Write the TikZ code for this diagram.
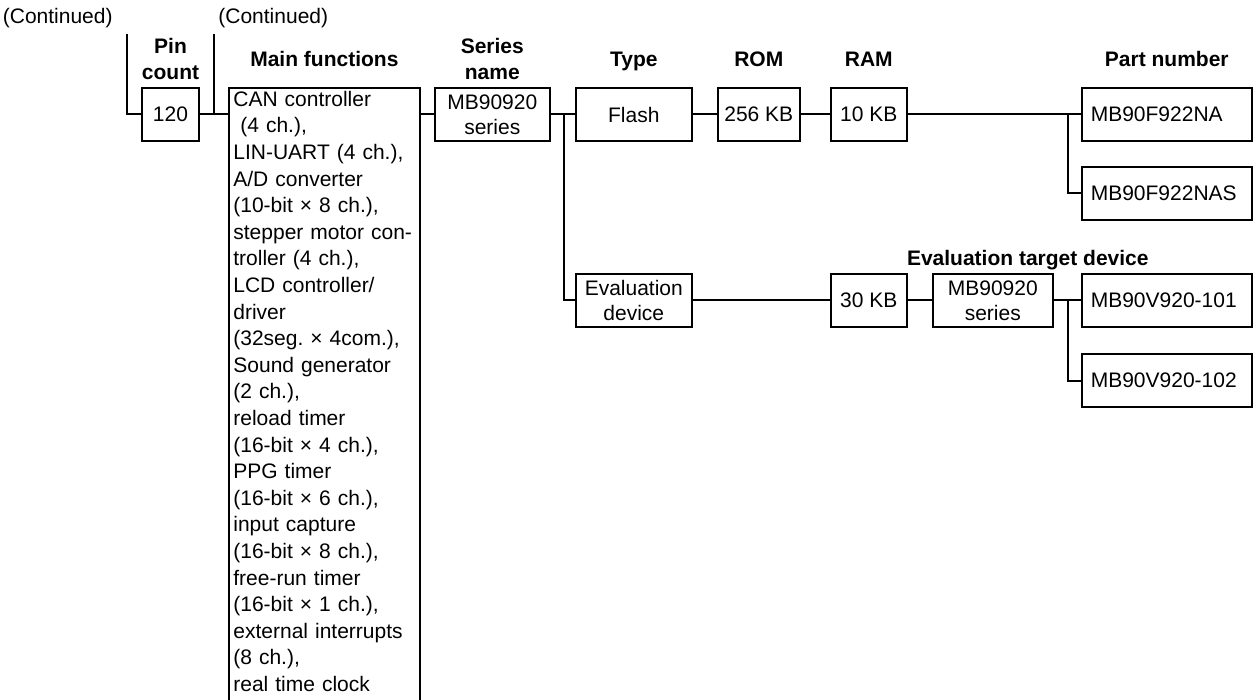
\documentclass[tikz,border=0pt]{standalone}
\usepackage{fontspec}
\setmainfont{Liberation Sans}
\usepackage{tikz}
\usetikzlibrary{positioning}
\frenchspacing

\begin{document}
\begin{tikzpicture}[
        x=0.5pt,
        y=-0.5pt,
        linebox/.style={
            draw,
            line width=1pt,
            outer sep=0pt,
            inner sep=0pt,
            minimum height=26.5pt,
            align=center,
            font=\fontsize{10.5}{12.5}\selectfont
        },
        partbox/.style={
            linebox,
            align=left,
            inner xsep=4.5pt,
            text width=76pt
        },
        colhead/.style={
            inner sep=0pt,
            align=center,
            font=\fontsize{10.5}{13}\selectfont\bfseries
        },
        onelinehead/.style={
            colhead,
            text height=7.6pt,
            text depth=0pt
        },
        note/.style={
            inner sep=0pt,
            font=\fontsize{10.5}{13.3}\selectfont
        },
        link/.style={
            line width=1pt
        }
    ]

        \useasboundingbox (0,0) rectangle (1253,700);

        % ---------------------------------------------------------------------
        % Pin count and main functions
        % ---------------------------------------------------------------------

        \node[
            linebox,
            minimum width=28.5pt,
            anchor=north west
        ] (pincount) at (142,88) {120};

        \node[
            note,
            align=left,
            text width=91pt,
            inner xsep=2pt,
            inner ysep=1.3pt,
            right=15pt of pincount.north east,
            anchor=north west
        ] (mainfunc) {CAN controller\\
            ~(4 ch.),\\
            LIN-UART (4 ch.),\\
            A/D converter\\
            (10-bit × 8 ch.),\\
            stepper motor con-\\
            troller (4 ch.),\\
            LCD controller/\\
            driver\\
            (32seg. × 4com.),\\
            Sound generator\\
            (2 ch.),\\
            reload timer\\
            (16-bit × 4 ch.),\\
            PPG timer\\
            (16-bit × 6 ch.),\\
            input capture\\
            (16-bit × 8 ch.),\\
            free-run timer\\
            (16-bit × 1 ch.),\\
            external interrupts\\
            (8 ch.),\\
            real time clock};

        % The box stays open at the bottom: the list goes on.
        \draw[link]
            ([yshift=-30pt]mainfunc.south west)
            -- (mainfunc.north west)
            -- (mainfunc.north east)
            -- ([yshift=-30pt]mainfunc.south east);

        \coordinate (contlefttop) at (127,34);
        \coordinate (contrighttop) at (214,34);
        \coordinate (mainrow) at (pincount.east -| mainfunc.east);

        \node[
            note,
            above left=3pt and 7pt of contlefttop
        ] (contleft) {(Continued)};

        \node[
            note,
            above right=3pt and 2pt of contrighttop
        ] (contright) {(Continued)};

        \draw[link]
            (contlefttop) |- (pincount.west);

        \draw[link]
            (contrighttop) -- (contrighttop |- pincount.east);

        \draw[link]
            (pincount.east) -- (pincount.east -| mainfunc.west);


        % ---------------------------------------------------------------------
        % First row: flash device
        % ---------------------------------------------------------------------

        \node[
            linebox,
            minimum width=57.5pt,
            right=7.5pt of mainrow
        ] (series) {MB90920\\series};

        \node[
            linebox,
            minimum width=58pt,
            right=13pt of series
        ] (flash) {Flash};

        \node[
            linebox,
            minimum width=41pt,
            right=13pt of flash
        ] (rom) {256 KB};

        \node[
            linebox,
            minimum width=38pt,
            right=15.5pt of rom
        ] (ram) {10 KB};

        \node[
            partbox,
            right=87.5pt of ram
        ] (partna) {MB90F922NA};

        \node[
            partbox,
            below=13pt of partna
        ] (partnas) {MB90F922NAS};

        \draw[link]
            (mainrow) -- (series.west);

        \draw[link]
            (series.east) -- (flash.west);

        \draw[link]
            (flash.east) -- (rom.west);

        \draw[link]
            (rom.east) -- (ram.west);

        \draw[link]
            (ram.east) -- (partna.west);

        \coordinate (partfork) at ([xshift=-7pt]partna.west);

        \draw[link]
            (partfork) |- (partnas.west);


        % ---------------------------------------------------------------------
        % Second row: evaluation device
        % ---------------------------------------------------------------------

        \node[
            linebox,
            minimum width=58pt,
            below=66.5pt of flash
        ] (evaldev) {Evaluation\\device};

        \node[
            linebox,
            minimum width=38pt,
            below=66.5pt of ram
        ] (evalram) {30 KB};

        \node[
            linebox,
            minimum width=60pt,
            right=13pt of evalram
        ] (evalseries) {MB90920\\series};

        \node[
            partbox,
            right=14.5pt of evalseries
        ] (partv101) {MB90V920-101};

        \node[
            partbox,
            below=13.5pt of partv101
        ] (partv102) {MB90V920-102};

        \coordinate (typefork) at ([xshift=-6pt]flash.west);

        \draw[link]
            (typefork) |- (evaldev.west);

        \draw[link]
            (evaldev.east) -- (evalram.west);

        \draw[link]
            (evalram.east) -- (evalseries.west);

        \draw[link]
            (evalseries.east) -- (partv101.west);

        \coordinate (evalfork) at ([xshift=-7pt]partv101.west);

        \draw[link]
            (evalfork) |- (partv102.west);


        % ---------------------------------------------------------------------
        % Column headings
        % ---------------------------------------------------------------------

        \coordinate (headrow) at (0,59);

        \node[colhead] (hdpin) at (pincount |- headrow) {Pin\\count};
        \node[onelinehead] (hdmain) at (mainfunc.north |- headrow) {Main functions};
        \node[colhead] (hdseries) at (series |- headrow) {Series\\name};
        \node[onelinehead] (hdtype) at (flash |- headrow) {Type};
        \node[onelinehead] (hdrom) at (rom |- headrow) {ROM};
        \node[onelinehead] (hdram) at (ram |- headrow) {RAM};
        \node[onelinehead] (hdpart) at (partna |- headrow) {Part number};

        \node[
            colhead,
            above=2pt of evalseries,
            xshift=17.5pt
        ] (hdtarget) {Evaluation target device};

    \end{tikzpicture}
\end{document}
